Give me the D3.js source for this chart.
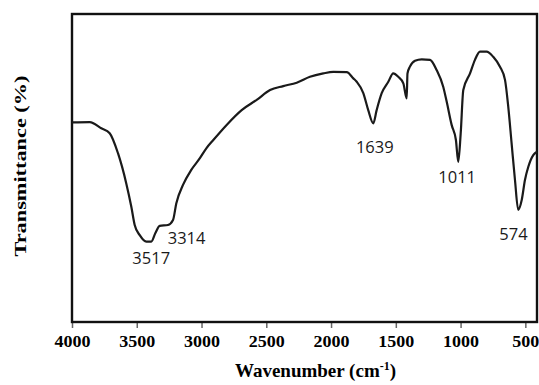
<!DOCTYPE html>
<html><head><meta charset="utf-8">
<script src="https://cdn.jsdelivr.net/npm/d3@7/dist/d3.min.js"></script>
<style>html,body{margin:0;padding:0;background:#fff;}svg{display:block;}</style>
</head><body>
<svg id="chart" width="539" height="385"></svg>
<script>
// Wavenumber (cm-1) and transmittance (%, arbitrary)
const wavenumber = [4000,3863,3774,3709,3645,3581,3542,3516,3477,3426,3388,3357,3323,3259,3220,3195,3143,3079,3014,2963,2909,2806,2690,2574,2471,2369,2265,2163,2060,1983,1879,1828,1802,1751,1713,1674,1648,1609,1558,1520,1481,1442,1416,1410,1391,1352,1300,1236,1185,1134,1107,1069,1036,1018,999,979,927,889,850,799,748,696,657,632,606,580,555,528,503,477,439,410];
const transmittance = [64.8,64.9,62.9,61.3,54.8,45.0,37.4,31.5,28.2,26.1,26.1,28.8,31.2,31.5,33.1,38.5,44.5,49.4,53.1,56.4,59.1,64.0,68.8,72.1,75.3,76.6,77.7,79.6,80.7,81.2,81.1,79.1,78.0,74.3,68.8,64.5,68.8,74.3,78.0,80.7,79.6,77.5,72.6,80.7,82.9,84.8,85.3,85.1,81.8,76.4,71.5,64.0,59.1,52.0,61.3,75.3,80.7,85.1,87.8,87.8,86.1,82.9,78.6,69.9,58.0,46.1,36.4,39.6,46.1,50.4,54.2,55.3];
const xTicks = [4000,3500,3000,2500,2000,1500,1000,500];
const peakLabels = ["3517","3314","1639","1011","574"];
const peakLabelWn = [3534,3261,1808,1172,701];
const peakLabelT = [18.8,25.3,54.9,45.1,26.5];

(function(){
const svg = d3.select("#chart");
const pL = 72, pR = 537, pT = 14, pB = 322;
const x = d3.scaleLinear().domain([4000, 410]).range([pL, pR]);
const y = d3.scaleLinear().domain([0, 100]).range([pB, pT]);

// axis ticks
const ax = svg.append("g").attr("transform", `translate(0,${pB})`)
  .call(d3.axisBottom(x).tickValues(xTicks).tickSize(6).tickSizeOuter(0).tickFormat(d3.format("d")));
ax.select(".domain").remove();
ax.selectAll(".tick line").attr("stroke", "#666").attr("stroke-width", 1.5);
ax.selectAll(".tick text")
  .attr("y", 25).attr("dy", 0)
  .attr("fill", "#000")
  .style("font-family", "'Liberation Serif','Times New Roman',serif")
  .style("font-weight", "bold").style("font-size", "16px")
  .attr("textLength", function(d){ return d >= 1000 ? 36 : 27; })
  .attr("lengthAdjust", "spacingAndGlyphs");

// frame
svg.append("rect").attr("x", pL).attr("y", pT)
  .attr("width", pR - pL).attr("height", pB - pT)
  .attr("fill", "none").attr("stroke", "#111").attr("stroke-width", 2.4);

// spectrum line
const pts = wavenumber.map((w, i) => [w, transmittance[i]]);
svg.append("path").datum(pts)
  .attr("fill", "none").attr("stroke", "#1a1a1a").attr("stroke-width", 2.2)
  .attr("stroke-linejoin", "round")
  .attr("d", d3.line().x(d => x(d[0])).y(d => y(d[1])).curve(d3.curveMonotoneX));

// peak labels
svg.append("g").selectAll("text").data(peakLabels).join("text")
  .attr("x", (d, i) => x(peakLabelWn[i]))
  .attr("y", (d, i) => y(peakLabelT[i]))
  .attr("fill", "#1a1a1a")
  .style("font-family", "'Open Sans','Liberation Sans',sans-serif")
  .style("font-size", "16.5px")
  .text(d => d);

// axis titles
const xt = svg.append("text").attr("x", 315.5).attr("y", 377)
  .attr("text-anchor", "middle")
  .style("font-family", "'Liberation Serif','Times New Roman',serif")
  .style("font-weight", "bold").style("font-size", "19px");
xt.append("tspan").text("Wavenumber (cm");
xt.append("tspan").attr("dy", -7).style("font-size", "12px").text("-1");
xt.append("tspan").attr("dy", 7).text(")");

svg.append("text")
  .attr("transform", "translate(26,166) rotate(-90)")
  .attr("text-anchor", "middle")
  .style("font-family", "'Liberation Serif','Times New Roman',serif")
  .style("font-weight", "bold").style("font-size", "17px")
  .attr("textLength", 181).attr("lengthAdjust", "spacingAndGlyphs")
  .text("Transmittance (%)");
})();
</script>
</body></html>
